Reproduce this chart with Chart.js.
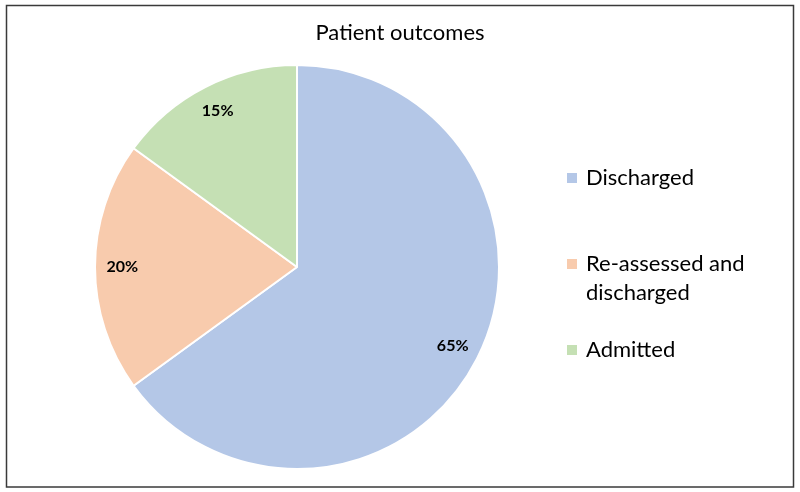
<!DOCTYPE html>
<html>
<head>
<meta charset="utf-8">
<script src="https://cdn.jsdelivr.net/npm/chart.js@4"></script>
<style>
  html, body { margin: 0; padding: 0; background: #fff; }
  #wrap { position: relative; width: 800px; height: 492px; }
</style>
</head>
<body>
<div id="wrap"><canvas id="outcomesChart" width="800" height="492"></canvas></div>
<script>
// chart data
const chartTitle = 'Patient outcomes';
const categories = ['Discharged', 'Re-assessed and discharged', 'Admitted'];
const legendLines = [['Discharged'], ['Re-assessed and', 'discharged'], ['Admitted']];
const shares = [65, 20, 15];
const sliceColors = ['#B4C7E7', '#F8CBAD', '#C5E0B4'];

const fontFamily = 'Lato, "Open Sans", sans-serif';

// frame, title, slice labels and legend drawn on the same canvas
const decorPlugin = {
    id: 'decor',
    beforeDraw(chart) {
        const ctx = chart.ctx;
        ctx.save();
        ctx.fillStyle = '#fff';
        ctx.fillRect(0, 0, chart.width, chart.height);
        ctx.strokeStyle = '#3a3a3a';
        ctx.lineWidth = 1.5;
        ctx.strokeRect(6.5, 5.5, 787, 481.5);
        ctx.restore();
    },
    afterDraw(chart) {
        const ctx = chart.ctx;
        ctx.save();

        // title
        ctx.fillStyle = '#000';
        ctx.font = '22px ' + fontFamily;
        ctx.textAlign = 'center';
        ctx.textBaseline = 'alphabetic';
        ctx.fillText(chartTitle, 400, 40);

        // percentage labels inside each slice
        const meta = chart.getDatasetMeta(0);
        const total = shares.reduce((a, b) => a + b, 0);
        ctx.font = 'bold 16px ' + fontFamily;
        ctx.textBaseline = 'middle';
        meta.data.forEach(function (arc, i) {
            const mid = (arc.startAngle + arc.endAngle) / 2;
            const r = arc.outerRadius * 0.865;
            const x = arc.x + Math.cos(mid) * r;
            const y = arc.y + Math.sin(mid) * r;
            ctx.fillText(Math.round(shares[i] / total * 100) + '%', x, y);
        });

        // legend on the right
        const rowY = [178, 264, 350];
        ctx.font = '22px ' + fontFamily;
        ctx.textAlign = 'left';
        legendLines.forEach(function (lines, i) {
            ctx.fillStyle = sliceColors[i];
            ctx.fillRect(567, rowY[i] - 5, 10, 10);
            ctx.fillStyle = '#000';
            lines.forEach(function (line, j) {
                ctx.fillText(line, 586, rowY[i] + j * 29);
            });
        });

        ctx.restore();
    }
};

const ctx = document.getElementById('outcomesChart').getContext('2d');
const outcomesChart = new Chart(ctx, {
    type: 'pie',
    data: {
        labels: categories,
        datasets: [{
            data: shares,
            backgroundColor: sliceColors,
            borderColor: '#ffffff',
            borderWidth: 2
        }]
    },
    options: {
        responsive: false,
        animation: false,
        layout: {
            padding: { left: 94, right: 300, top: 64, bottom: 22 }
        },
        plugins: {
            legend: { display: false },
            title: { display: false },
            tooltip: { enabled: false }
        }
    },
    plugins: [decorPlugin]
});
</script>
</body>
</html>
